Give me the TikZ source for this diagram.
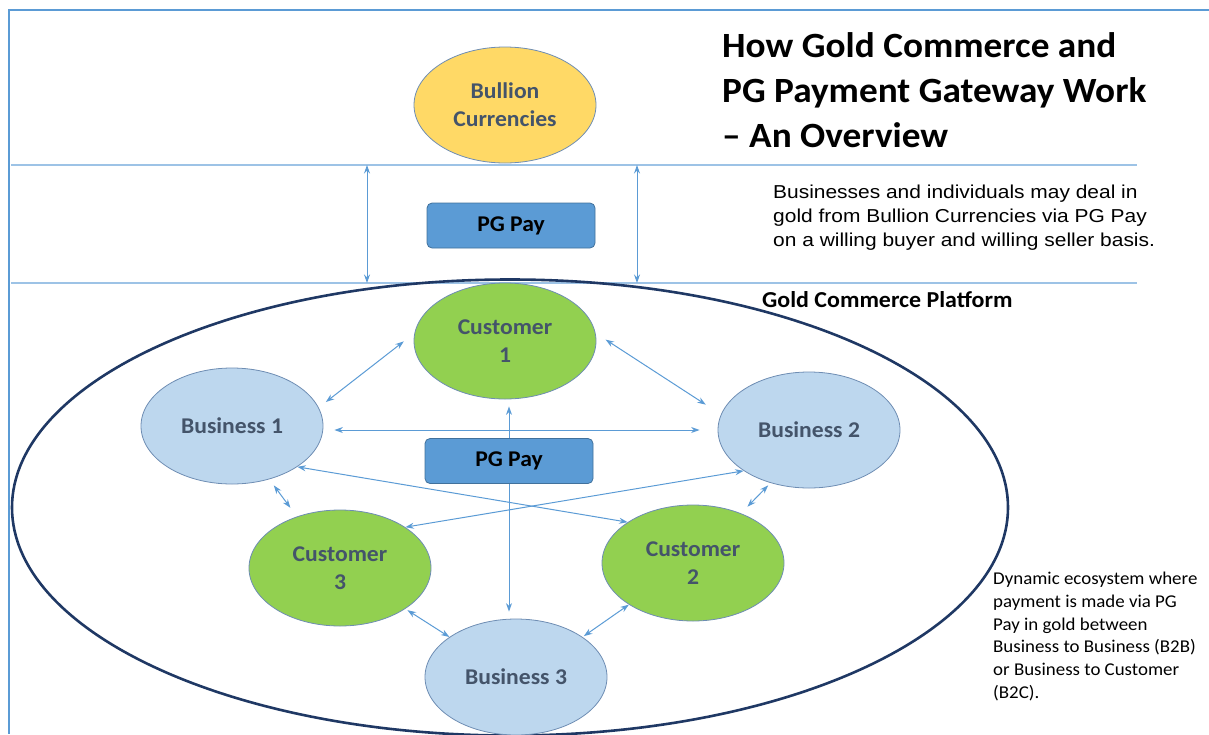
\documentclass[tikz,border=0pt]{standalone}
\usepackage{fontspec}
\setmainfont{Carlito}[FakeStretch=1.05]
\newfontfamily\arialf{Liberation Sans}[FakeStretch=1.12]
\usetikzlibrary{shapes.geometric,arrows.meta}

\definecolor{frameblue}{HTML}{5B9BD5}
\definecolor{bandblue}{HTML}{9DC3E6}
\definecolor{linkblue}{HTML}{5B9BD5}
\definecolor{platformnavy}{HTML}{1F3864}
\definecolor{goldfill}{HTML}{FFD966}
\definecolor{custgreen}{HTML}{92D050}
\definecolor{bizblue}{HTML}{BDD7EE}
\definecolor{payblue}{HTML}{5B9BD5}
\definecolor{paydraw}{HTML}{41719C}
\definecolor{ovaledge}{HTML}{6E8DB3}
\definecolor{slate}{HTML}{44546A}

\newcommand\ovalfont{\fontsize{22.5}{28}\selectfont\bfseries}

\tikzset{
  oval/.style={ellipse, minimum width=182, minimum height=116, inner sep=0pt,
    draw=ovaledge, line width=0.8pt, font=\ovalfont, text=slate, align=center},
  goldoval/.style={oval, fill=goldfill},
  custoval/.style={oval, fill=custgreen},
  bizoval/.style={oval, fill=bizblue},
  paybox/.style={rectangle, rounded corners=5pt, fill=payblue, draw=paydraw,
    line width=0.8pt, minimum width=168, minimum height=45, inner sep=0pt,
    font=\ovalfont, text=black},
  tip/.tip={Stealth[length=8.5pt,width=6pt]},
  link/.style={draw=linkblue, line width=1pt, tip-tip},
  feed/.style={draw=linkblue, line width=1pt, -tip},
  band/.style={draw=bandblue, line width=1.8pt},
}

\begin{document}
\begin{tikzpicture}[x=1pt, y=-1pt]
\useasboundingbox (0,0) rectangle (1209,734);

% page frame
\draw[frameblue, line width=1.6pt] (1209,10) -- (9,10) -- (9,734);

% band holding the gateway
\coordinate (bandTL) at (11,165);
\coordinate (bandTR) at (1137,165);
\coordinate (bandBL) at (11,283);
\coordinate (bandBR) at (1137,283);
\draw[band] (bandTL) -- (bandTR);
\draw[band] (bandBL) -- (bandBR);

% platform boundary
\node[ellipse, draw=platformnavy, line width=2.6pt, minimum width=996,
      minimum height=456, inner sep=0pt] (platform) at (510,507.5) {};

% titles and notes
\node[anchor=north west, inner sep=0pt, align=left,
      font=\fontsize{35.5}{45}\selectfont\bfseries] (title) at (722,32)
  {How Gold Commerce and\\PG Payment Gateway Work\\– An Overview};
\node[anchor=north west, inner sep=0pt, align=left,
      font=\arialf\fontsize{18.7}{24}\selectfont] (bandnote) at (773,185)
  {Businesses and individuals may deal in\\gold from Bullion Currencies via PG Pay\\on a willing buyer and willing seller basis.};
\node[anchor=base west, inner sep=0pt,
      font=\fontsize{22.8}{27}\selectfont\bfseries] (gcp) at (762,307)
  {Gold Commerce Platform};
\node[anchor=north west, inner sep=0pt, align=left,
      font=\fontsize{18}{22.7}\selectfont] (ecosys) at (993,572)
  {Dynamic ecosystem where\\payment is made via PG\\Pay in gold between\\Business to Business (B2B)\\or Business to Customer\\(B2C).};

% gateway tier
\node[goldoval] (bullion) at (505,105) {Bullion\\Currencies};
\node[paybox] (pgtop) at (511,225.5) {PG Pay};

\coordinate (upL) at (367,165);
\coordinate (dnL) at (367,283);
\coordinate (upR) at (637,165);
\coordinate (dnR) at (637,283);
\draw[link] (upL) -- (dnL);
\draw[link] (upR) -- (dnR);

% platform participants
\node[custoval] (c1) at (505,341) {Customer\\1};
\node[bizoval]  (b1) at (232,426) {Business 1};
\node[bizoval]  (b2) at (809,430) {Business 2};
\node[custoval] (c3) at (340,568) {Customer\\3};
\node[custoval] (c2) at (693,563) {Customer\\2};
\node[bizoval]  (b3) at (516,677) {Business 3};
\node[paybox]   (pg) at (509,461) {PG Pay};

% payment links
\draw[link, shorten <=9pt, shorten >=13.5pt] (b1.12) -- (c1.175);
\draw[link, shorten <=12pt, shorten >=18pt] (c1.5) -- (b2.170);
\draw[link, shorten <=11pt, shorten >=18pt] (b1.east |- b2.west) -- (b2.west);
\draw[feed, shorten >=7pt] (pg.north) -- (pg.north |- c1.south);
\draw[feed, shorten >=7pt] (pg.south) -- (pg.south |- b3.north);
\draw[link] (b1.-32) -- (c2.148);
\draw[link] (b2.212) -- (c3.32);
\draw[link, shorten <=7.6pt, shorten >=10.8pt] (b1.-55) -- (c3.130);
\draw[link, shorten <=3.4pt, shorten >=9.2pt] (b2.234) -- (c2.46);
\draw[link, shorten <=2.5pt] (c3.-32) -- (b3.149);
\draw[link, shorten >=1.5pt] (c2.213) -- (b3.31);
\end{tikzpicture}
\end{document}
